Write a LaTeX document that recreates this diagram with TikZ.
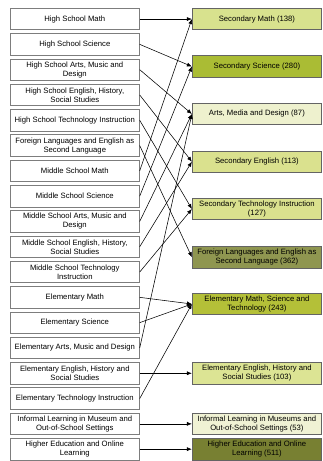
\documentclass[tikz,border=0pt]{standalone}
\usepackage{fontspec}
\setmainfont{Liberation Sans}
\usetikzlibrary{arrows.meta}
\definecolor{boxgray}{RGB}{125,125,125}
\definecolor{cSecMath}{RGB}{216,226,142}
\definecolor{cSecSci}{RGB}{170,188,52}
\definecolor{cArts}{RGB}{238,241,206}
\definecolor{cSecEng}{RGB}{218,225,142}
\definecolor{cSecTech}{RGB}{218,225,142}
\definecolor{cForeign}{RGB}{143,150,80}
\definecolor{cElemMST}{RGB}{180,192,56}
\definecolor{cElemEng}{RGB}{220,228,148}
\definecolor{cInformal}{RGB}{240,242,212}
\definecolor{cHigher}{RGB}{120,128,50}
\begin{document}
\begin{tikzpicture}[x=1pt,y=-1pt,
  lbox/.style={draw=boxgray, fill=white, line width=0.8pt, minimum width=129pt,
    minimum height=21.5pt, inner sep=0pt, align=center,
    font=\fontsize{7.7}{9}\selectfont},
  rbox/.style={lbox, draw=boxgray!80!black, minimum width=129.2pt},
  conn/.style={-{Latex[length=5pt,width=4pt]}, line width=0.55pt}]
\useasboundingbox (0,0) rectangle (322,461);
% left column
\node[lbox] (hsm)  at (74.8,19.05)  {High School Math};
\node[lbox] (hss)  at (74.8,44.35)  {High School Science};
\node[lbox] (hsa)  at (74.8,69.65)  {High School Arts, Music and\\Design};
\node[lbox] (hse)  at (74.8,94.95)  {High School English, History,\\Social Studies};
\node[lbox] (hst)  at (74.8,120.25) {High School Technology Instruction};
\node[lbox] (fl)   at (74.8,145.55) {Foreign Languages and English as\\Second Language};
\node[lbox] (msm)  at (74.8,170.85) {Middle School Math};
\node[lbox] (mss)  at (74.8,196.15) {Middle School Science};
\node[lbox] (msa)  at (74.8,221.45) {Middle School Arts, Music and\\Design};
\node[lbox] (mse)  at (74.8,246.75) {Middle School English, History,\\Social Studies};
\node[lbox] (mst)  at (74.8,272.05) {Middle School Technology\\Instruction};
\node[lbox] (elm)  at (74.8,297.35) {Elementary Math};
\node[lbox] (els)  at (74.8,322.65) {Elementary Science};
\node[lbox] (ela)  at (74.8,347.95) {Elementary Arts, Music and Design};
\node[lbox] (ele)  at (74.8,373.25) {Elementary English, History and\\Social Studies};
\node[lbox] (elt)  at (74.8,398.55) {Elementary Technology Instruction};
\node[lbox] (inf)  at (74.8,423.85) {Informal Learning in Museum and\\Out-of-School Settings};
\node[lbox] (he)   at (74.8,449.15) {Higher Education and Online\\Learning};
% right column
\node[rbox, fill=cSecMath]  (rsm)  at (256.9,19.05)  {Secondary Math (138)};
\node[rbox, fill=cSecSci]   (rss)  at (256.9,66.5)   {Secondary Science (280)};
\node[rbox, fill=cArts]     (ram)  at (256.9,114)    {Arts, Media and Design (87)};
\node[rbox, fill=cSecEng]   (rse)  at (256.9,161.7)  {Secondary English (113)};
\node[rbox, fill=cSecTech]  (rst)  at (256.9,209)    {Secondary Technology Instruction\\(127)};
\node[rbox, fill=cForeign]  (rfl)  at (256.9,257.2)  {Foreign Languages and English as\\Second Language (362)};
\node[rbox, fill=cElemMST]  (remst) at (256.9,304)   {Elementary Math, Science and\\Technology (243)};
\node[rbox, fill=cElemEng]  (ree)  at (256.9,373.25) {Elementary English, History and\\Social Studies (103)};
\node[rbox, fill=cInformal] (rinf) at (256.9,423.85) {Informal Learning in Museums and\\Out-of-School Settings (53)};
\node[rbox, fill=cHigher]   (rhe)  at (256.9,449.15) {Higher Education and Online\\Learning (511)};
% connectors
\draw[conn] (hsm.east) -- (rsm.west);
\draw[conn] (hss.east) -- (rss.west);
\draw[conn] (hsa.east) -- (ram.west);
\draw[conn] (hse.east) -- (rse.west);
\draw[conn] (hst.east) -- (rst.west);
\draw[conn] (fl.east)  -- (rfl.west);
\draw[conn] (msm.east) -- (rsm.west);
\draw[conn] (mss.east) -- (rss.west);
\draw[conn] (msa.east) -- (ram.west);
\draw[conn] (mse.east) -- (rse.west);
\draw[conn] (mst.east) -- (rst.west);
\draw[conn] (elm.east) -- (remst.west);
\draw[conn] (els.east) -- (remst.west);
\draw[conn] (ela.east) -- (ram.west);
\draw[conn] (ele.east) -- (ree.west);
\draw[conn] (elt.east) -- (remst.west);
\draw[conn] (inf.east) -- (rinf.west);
\draw[conn] (he.east)  -- (rhe.west);
\end{tikzpicture}
\end{document}
